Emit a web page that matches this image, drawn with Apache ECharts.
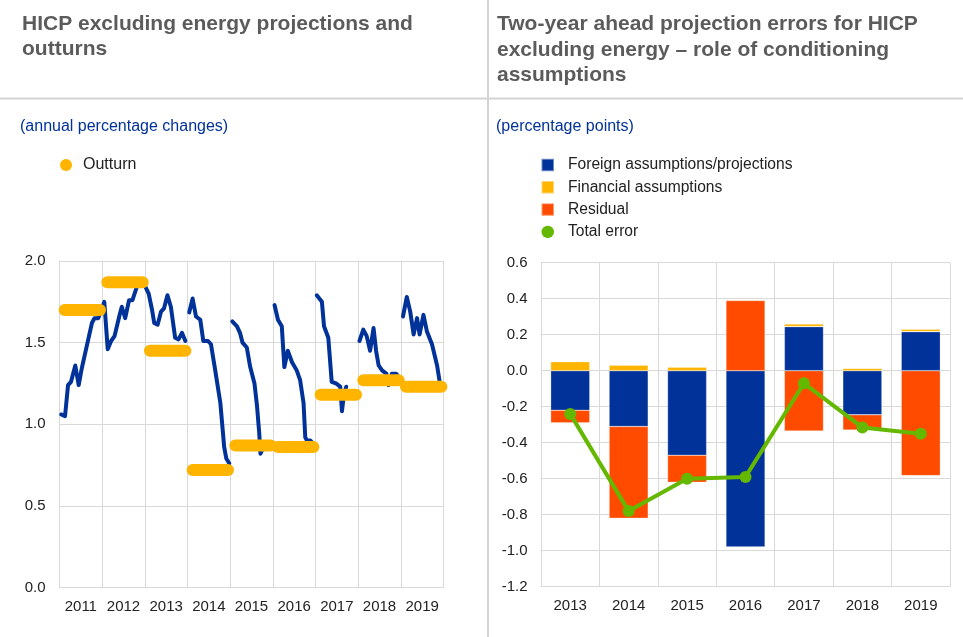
<!DOCTYPE html>
<html>
<head>
<meta charset="utf-8">
<script src="https://cdn.jsdelivr.net/npm/echarts@6/dist/echarts.min.js"></script>
<style>html,body{margin:0;padding:0;background:#fff}#c{width:963px;height:637px}</style>
</head>
<body>
<div id="c"></div>
<script>
// ---------- Left chart data ----------
const yearsLeft = ['2011','2012','2013','2014','2015','2016','2017','2018','2019'];
const outturn = [1.70, 1.87, 1.45, 0.72, 0.87, 0.86, 1.18, 1.27, 1.23];
// projection paths: [time (year fraction), value]
const proj1 = [[2011.04,1.06],[2011.13,1.05],[2011.20,1.24],[2011.27,1.26],[2011.37,1.36],[2011.45,1.24],[2011.52,1.34],[2011.64,1.48],[2011.76,1.62],[2011.82,1.65],[2011.91,1.65],[2012.05,1.75],[2012.13,1.46],[2012.21,1.51],[2012.29,1.54],[2012.40,1.66],[2012.46,1.72],[2012.54,1.65],[2012.63,1.76],[2012.71,1.76],[2012.81,1.84],[2012.90,1.87],[2012.98,1.86],[2013.09,1.80],[2013.17,1.70],[2013.22,1.62],[2013.30,1.61],[2013.38,1.69],[2013.45,1.71],[2013.53,1.79],[2013.61,1.72],[2013.71,1.53],[2013.79,1.52],[2013.87,1.56],[2013.95,1.51]];
const proj2 = [[2014.04,1.685],[2014.12,1.77],[2014.20,1.66],[2014.30,1.64],[2014.37,1.51],[2014.48,1.51],[2014.55,1.49],[2014.65,1.33],[2014.77,1.13],[2014.86,0.86],[2014.91,0.79],[2014.98,0.76]];
const proj3 = [[2015.05,1.63],[2015.16,1.60],[2015.23,1.56],[2015.29,1.50],[2015.39,1.47],[2015.47,1.35],[2015.57,1.25],[2015.63,1.11],[2015.68,0.95],[2015.71,0.82],[2015.78,0.86],[2015.90,0.89],[2015.96,0.89]];
const proj4 = [[2016.04,1.73],[2016.12,1.64],[2016.21,1.60],[2016.27,1.35],[2016.35,1.45],[2016.45,1.38],[2016.56,1.33],[2016.64,1.27],[2016.72,1.13],[2016.76,0.92],[2016.80,0.90],[2016.88,0.90],[2016.95,0.88]];
const proj5 = [[2017.03,1.79],[2017.15,1.75],[2017.20,1.60],[2017.30,1.53],[2017.38,1.26],[2017.48,1.25],[2017.58,1.23],[2017.62,1.08],[2017.66,1.17],[2017.72,1.23]];
const proj6 = [[2018.03,1.51],[2018.12,1.58],[2018.20,1.54],[2018.28,1.45],[2018.36,1.59],[2018.42,1.45],[2018.48,1.36],[2018.56,1.33],[2018.66,1.31],[2018.71,1.24],[2018.79,1.31],[2018.89,1.31],[2018.95,1.29]];
const proj7 = [[2019.05,1.66],[2019.14,1.78],[2019.22,1.69],[2019.30,1.55],[2019.38,1.65],[2019.44,1.55],[2019.53,1.67],[2019.61,1.57],[2019.73,1.49],[2019.85,1.36],[2019.91,1.26]];
const projPaths = [proj1, proj2, proj3, proj4, proj5, proj6, proj7];
const yTicksLeft = [0.0, 0.5, 1.0, 1.5, 2.0];

// ---------- Right chart data ----------
const yearsRight = ['2013','2014','2015','2016','2017','2018','2019'];
const foreign   = [-0.22, -0.31, -0.47, -0.98, 0.245, -0.245, 0.217];
const financial = [0.05, 0.03, 0.02, 0.00, 0.015, 0.013, 0.013];
const residual  = [-0.07, -0.51, -0.15, 0.39, -0.335, -0.085, -0.583];
const totalErr  = [-0.24, -0.78, -0.60, -0.59, -0.07, -0.315, -0.35];
const yTicksRight = [-1.2, -1.0, -0.8, -0.6, -0.4, -0.2, 0.0, 0.2, 0.4, 0.6];

const BLUE = '#003299', YELLOW = '#FFB400', ORANGE = '#FF4B00', GREEN = '#65B800';
const GRIDC = '#d9d9d9';
const FONT = 'Liberation Sans, Arial, sans-serif';

const chart = echarts.init(document.getElementById('c'), null, {renderer: 'canvas'});

const series = [];
// blue projection paths
projPaths.forEach((p) => {
  series.push({
    type: 'line', xAxisIndex: 1, yAxisIndex: 0, data: p, showSymbol: false, symbol: 'none',
    lineStyle: {color: BLUE, width: 4, join: 'round', cap: 'round'}, z: 2, silent: true
  });
});
// outturn bars
outturn.forEach((v, i) => {
  const y0 = 2011 + i;
  series.push({
    name: 'Outturn', type: 'line', xAxisIndex: 1, yAxisIndex: 0,
    data: [[y0 + 0.12, v], [y0 + 0.95, v]], showSymbol: false, symbol: 'none',
    lineStyle: {color: YELLOW, width: 12, cap: 'round'}, itemStyle: {color: YELLOW}, z: 3, silent: true
  });
});
// right chart stacked bars
const barCommon = {type: 'bar', xAxisIndex: 2, yAxisIndex: 1, stack: 'err', barCategoryGap: '33%',
  stackStrategy: 'samesign'};
series.push(Object.assign({}, barCommon, {name: 'Foreign assumptions/projections', data: foreign,
  itemStyle: {color: BLUE, borderColor: 'rgba(255,255,255,0.45)', borderWidth: 0.6}}));
series.push(Object.assign({}, barCommon, {name: 'Financial assumptions', data: financial,
  itemStyle: {color: YELLOW, borderColor: 'rgba(255,255,255,0.45)', borderWidth: 0.6}}));
series.push(Object.assign({}, barCommon, {name: 'Residual', data: residual,
  itemStyle: {color: ORANGE, borderColor: 'rgba(255,255,255,0.45)', borderWidth: 0.6}}));
series.push({name: 'Total error', type: 'line', xAxisIndex: 2, yAxisIndex: 1, data: totalErr,
  symbol: 'circle', symbolSize: 12, lineStyle: {color: GREEN, width: 4}, itemStyle: {color: GREEN}, z: 5});

const axisLabelStyle = {color: '#222', fontSize: 15, fontFamily: FONT};

const option = {
  animation: false,
  backgroundColor: '#fff',
  title: [
    {text: 'HICP excluding energy projections and\noutturns', left: 17, top: 7,
      textStyle: {fontFamily: FONT, fontSize: 21, fontWeight: 'bold', color: '#5b5b5b', lineHeight: 25}},
    {text: 'Two-year ahead projection errors for HICP\nexcluding energy \u2013 role of conditioning\nassumptions', left: 492, top: 7,
      textStyle: {fontFamily: FONT, fontSize: 21, fontWeight: 'bold', color: '#5b5b5b', lineHeight: 25.3}},
    {text: '(annual percentage changes)', left: 15, top: 114,
      textStyle: {fontFamily: FONT, fontSize: 16, fontWeight: 'normal', color: '#003299'}},
    {text: '(percentage points)', left: 491, top: 114,
      textStyle: {fontFamily: FONT, fontSize: 16, fontWeight: 'normal', color: '#003299'}}
  ],
  graphic: [
    {type: 'line', shape: {x1: 0, y1: 98.5, x2: 963, y2: 98.5}, style: {stroke: '#d4d4d4', lineWidth: 2}, silent: true},
    {type: 'line', shape: {x1: 488, y1: 0, x2: 488, y2: 637}, style: {stroke: '#d4d4d4', lineWidth: 2}, silent: true}
  ],
  legend: [
    {data: [{name: 'Outturn', icon: 'circle', itemStyle: {color: YELLOW}}], left: 55, top: 152, orient: 'vertical',
      itemWidth: 12, itemHeight: 12, textStyle: {fontFamily: FONT, fontSize: 16, color: '#222', padding: [0, 0, 0, 6]}},
    {data: [
      {name: 'Foreign assumptions/projections', icon: 'rect'},
      {name: 'Financial assumptions', icon: 'rect'},
      {name: 'Residual', icon: 'rect'},
      {name: 'Total error', icon: 'circle', itemStyle: {color: GREEN}}
    ], left: 535.5, top: 152, orient: 'vertical', itemGap: 6.3, itemWidth: 12.5, itemHeight: 12.5,
      textStyle: {fontFamily: FONT, fontSize: 15.6, color: '#222', padding: [0, 0, 0, 9]}}
  ],
  grid: [
    {left: 59.5, right: 963 - 443.5, top: 261, bottom: 637 - 587.5, containLabel: false},
    {left: 541, right: 963 - 950, top: 262.7, bottom: 637 - 586.7, containLabel: false}
  ],
  xAxis: [
    {type: 'category', gridIndex: 0, data: yearsLeft, boundaryGap: true,
      axisLine: {show: true, lineStyle: {color: GRIDC}}, axisTick: {show: false},
      splitLine: {show: true, interval: 0, lineStyle: {color: GRIDC}},
      axisLabel: Object.assign({margin: 12, interval: 0}, axisLabelStyle)},
    {type: 'value', gridIndex: 0, min: 2011, max: 2020, show: false, splitLine: {show: false}},
    {type: 'category', gridIndex: 1, data: yearsRight, boundaryGap: true,
      axisLine: {show: true, onZero: false, lineStyle: {color: GRIDC}}, axisTick: {show: false},
      splitLine: {show: true, interval: 0, lineStyle: {color: GRIDC}},
      axisLabel: Object.assign({margin: 12, interval: 0}, axisLabelStyle)}
  ],
  yAxis: [
    {type: 'value', gridIndex: 0, min: 0, max: 2, interval: 0.5,
      axisLine: {show: true, lineStyle: {color: GRIDC}}, axisTick: {show: false},
      splitLine: {show: true, lineStyle: {color: GRIDC}},
      axisLabel: Object.assign({margin: 14, formatter: v => v.toFixed(1)}, axisLabelStyle)},
    {type: 'value', gridIndex: 1, min: -1.2, max: 0.6, interval: 0.2,
      axisLine: {show: true, lineStyle: {color: GRIDC}}, axisTick: {show: false},
      splitLine: {show: true, lineStyle: {color: GRIDC}},
      axisLabel: Object.assign({margin: 13.5, formatter: v => (Math.abs(v) < 1e-9 ? 0 : v).toFixed(1)}, axisLabelStyle)}
  ],
  series: series
};
chart.setOption(option);
</script>
</body>
</html>
